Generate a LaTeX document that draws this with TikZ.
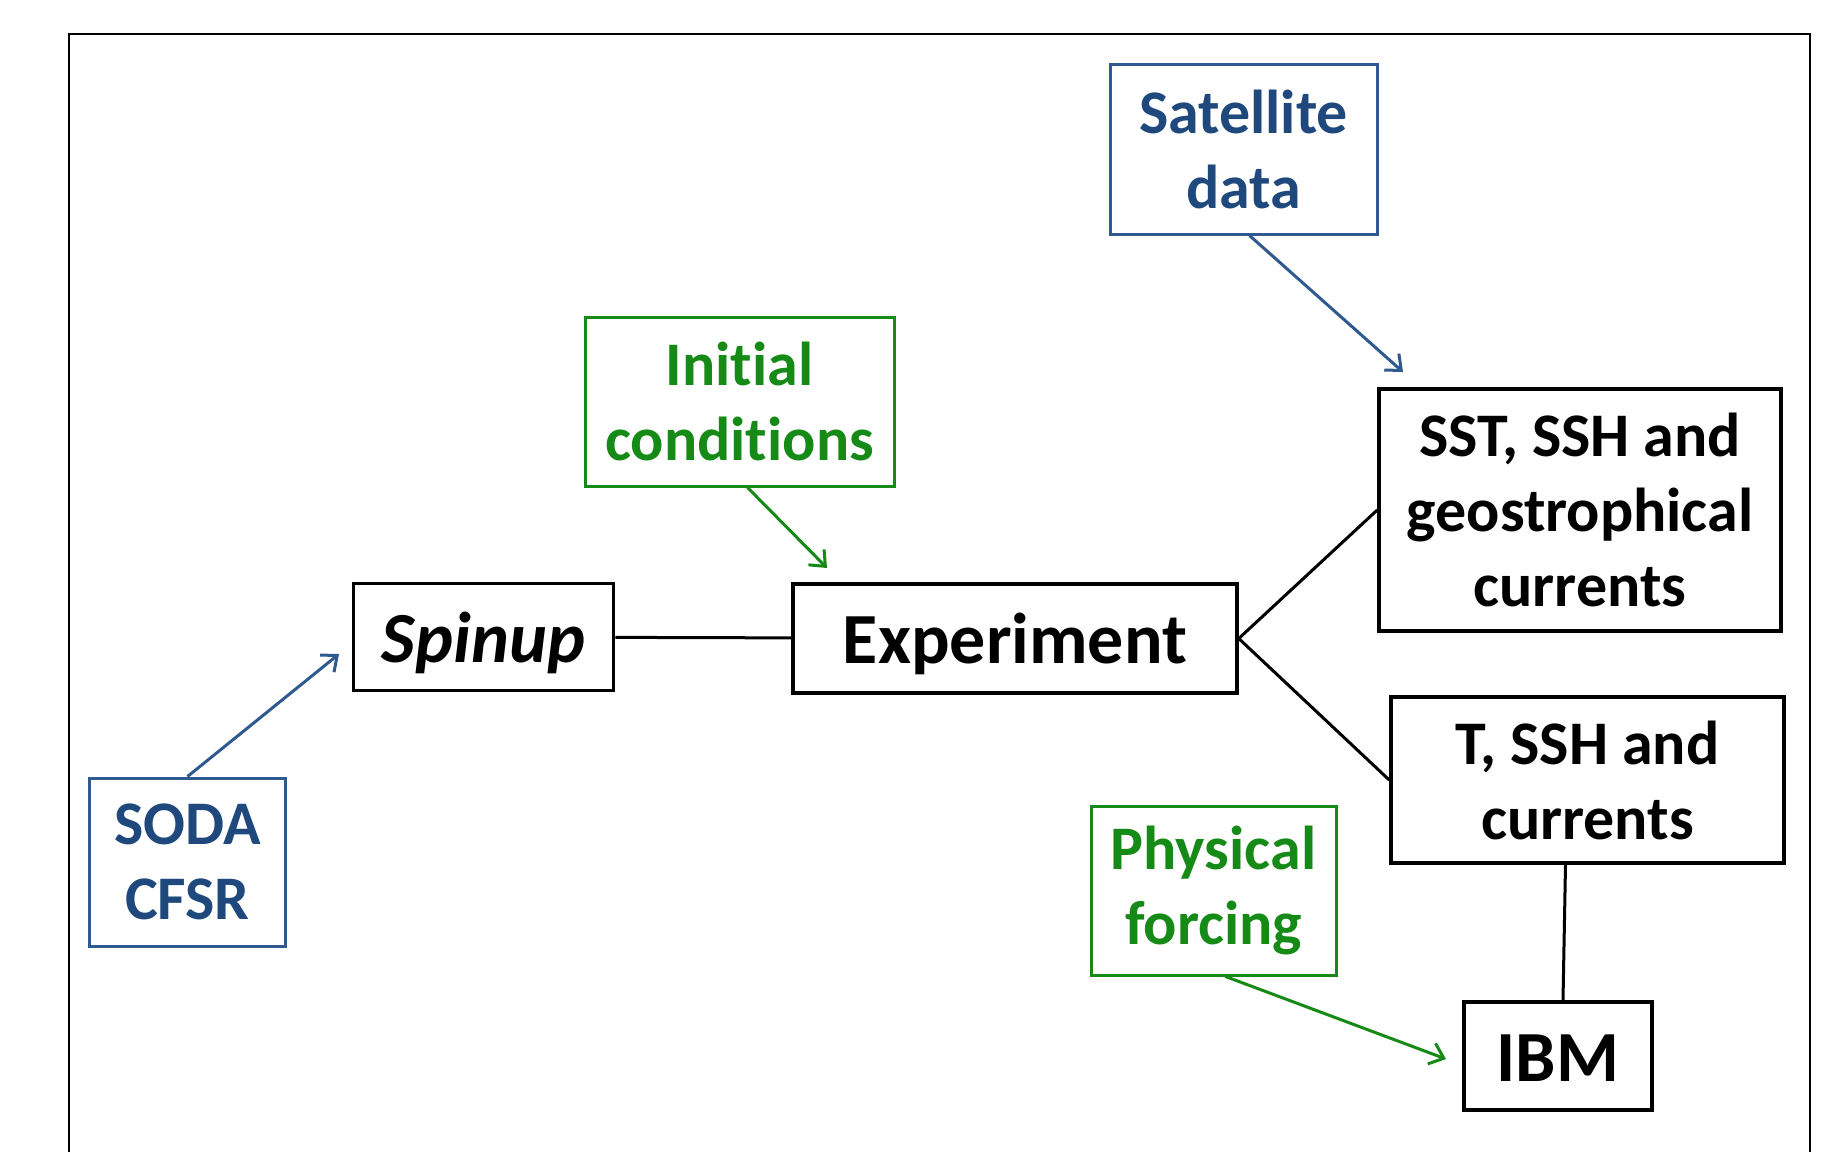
\documentclass[tikz,border=0pt]{standalone}
\usepackage{fontspec}
\setmainfont{Carlito}
\usepackage{tikz}
\usetikzlibrary{arrows.meta,positioning}
\definecolor{bleu}{HTML}{1F497D}
\definecolor{bleutrait}{HTML}{2E5A8F}
\definecolor{vert}{HTML}{168A16}

\begin{document}
\begin{tikzpicture}[x=1pt,y=-1pt,
		boite/.style={draw=black, line width=3.5pt, align=center, inner sep=0pt,
			font=\bfseries\fontsize{62}{75}\selectfont},
		grande/.style={boite, text height=60pt, text depth=10pt,
			font=\bfseries\fontsize{72}{80}\selectfont},
		source/.style={boite, draw=bleutrait, text=bleu, line width=3pt},
		donnee/.style={boite, draw=vert, text=vert, line width=3pt},
		lien/.style={draw, line width=3pt},
		fleche/.style={line width=3pt, -{Straight Barb[length=13pt,width=22pt]}}
		]
		\useasboundingbox (0,0) rectangle (1832,1152);
		
		% Le cadre
		\draw[line width=2.8pt] (69,1152) -- (69,34) -- (1810,34) -- (1810,1152);
		
		% Les boites
		\node[source, minimum width=267pt, minimum height=170pt] (sat) at (1243.5,149) {Satellite\\data};
		\node[donnee, minimum width=309pt, minimum height=169pt] (init) at (739.5,401.5) {Init\kern0pt ial\\condit\kern0pt ions};
		\node[grande, minimum width=260pt, minimum height=107pt] (spin) at (483.5,637) {\itshape Spinup};
		\node[grande, minimum width=444pt, minimum height=109pt] (exp) at (1015,638.5) {Experiment};
		\node[boite, minimum width=402pt, minimum height=242pt] (sst) at (1580,510) {SST, SSH and\\geostrophical\\currents};
		\node[boite, minimum width=393pt, minimum height=166pt] (tssh) at (1587.5,780) {T, SSH and\\currents};
		\node[source, minimum width=196pt, minimum height=168pt] (soda) at (187.5,862) {SODA\\CFSR};
		\node[donnee, minimum width=245pt, minimum height=169pt] (phys) at (1213.5,890.5) {Physical\\forcing};
		\node[grande, minimum width=188pt, minimum height=108pt] (ibm) at (1558,1056) {IBM};
		
		% Les pointes libres
		\coordinate (psat) at (1403,372);
		\coordinate (pinit) at (827,568);
		\coordinate (psoda) at (339,654);
		\coordinate (pphys) at (1446,1059);
		
		% Les liaisons
		\draw[lien] (spin) -- (exp);
		\draw[lien] (exp.east) -- (sst.west);
		\draw[lien] (exp.east) -- (tssh.west);
		\draw[lien] ([xshift=-22pt]tssh.south) -- ([xshift=5pt]ibm.north);
		
		% Les fleches
		\draw[fleche, bleutrait] ([xshift=6pt]sat.south) -- (psat);
		\draw[fleche, vert] ([xshift=8pt]init.south) -- (pinit);
		\draw[fleche, bleutrait] (soda.north) -- (psoda);
		\draw[fleche, vert] ([xshift=12pt]phys.south) -- (pphys);
	\end{tikzpicture}
\end{document}
